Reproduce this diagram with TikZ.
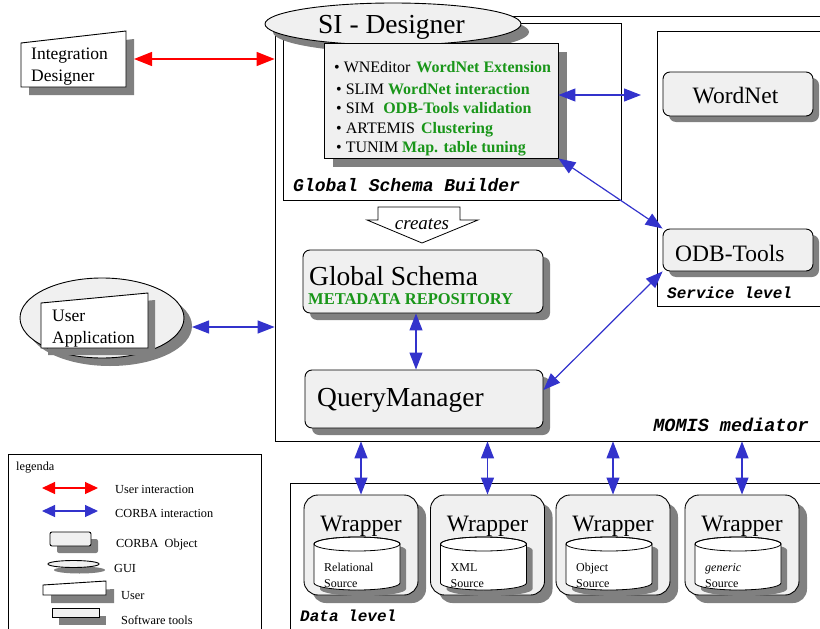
\documentclass[tikz,border=0pt]{standalone}
\usepackage{fontspec}
\setmainfont{Liberation Serif}
\setmonofont{Liberation Mono}
\usetikzlibrary{arrows.meta,shadows,shapes.geometric}

\definecolor{boxgray}{RGB}{240,240,240}
\definecolor{shadowgray}{RGB}{128,128,128}
\definecolor{corbablue}{RGB}{51,51,204}
\definecolor{toolgreen}{RGB}{25,150,25}
\newcommand{\greenbf}[1]{\textcolor{toolgreen}{\textbf{#1}}}

\tikzset{
  grayshadow/.style={drop shadow={shadow xshift=#1, shadow yshift=-#1, fill=shadowgray, opacity=1}},
  grayshadow/.default=7pt,
  frame/.style={draw, line width=0.8pt, inner sep=0pt},
  corbabox/.style={draw, line width=0.9pt, fill=boxgray, rounded corners=7pt, inner sep=0pt, grayshadow=#1},
  corbabox/.default=7pt,
  toolbox/.style={draw, line width=0.9pt, fill=boxgray, inner sep=0pt, grayshadow=#1},
  toolbox/.default=9pt,
  userbox/.style={draw, line width=0.9pt, fill=white, grayshadow=#1},
  userbox/.default=8pt,
  guibox/.style={ellipse, draw, line width=0.9pt, fill=boxgray, inner sep=0pt, grayshadow=#1},
  guibox/.default=8pt,
  bigtxt/.style={anchor=base west, inner sep=0pt, font=\fontsize{27.5}{30}\selectfont},
  midtxt/.style={anchor=base, inner sep=0pt, font=\fontsize{23.5}{26}\selectfont},
  usertxt/.style={anchor=west, align=left, inner sep=0pt, font=\fontsize{17.5}{22}\selectfont},
  itemtxt/.style={anchor=base west, inner sep=0pt, font=\fontsize{16}{18}\selectfont},
  legtxt/.style={anchor=base west, inner sep=0pt, font=\fontsize{12.3}{14}\selectfont},
  srctxt/.style={anchor=base west, inner sep=0pt, font=\fontsize{12}{14}\selectfont},
  leveltxt/.style={anchor=base west, inner sep=0pt, font=\fontsize{#1}{#1}\selectfont\ttfamily\bfseries\itshape},
  leveltxt/.default=16,
  corbaarrow/.style={{Triangle[length=17pt,width=13pt]}-{Triangle[length=17pt,width=13pt]}, color=corbablue, line width=1.2pt},
  userarrow/.style={{Triangle[length=18pt,width=14pt]}-{Triangle[length=18pt,width=14pt]}, color=red, line width=1.4pt},
  legtips/.style={{Triangle[length=13pt,width=12pt]}-{Triangle[length=13pt,width=12pt]}, line width=1.2pt}
}

\begin{document}
\begin{tikzpicture}[x=1pt, y=-1pt]
\useasboundingbox (0,0) rectangle (820,629);

\node[frame, minimum width=555, minimum height=425] (momis) at (552.5,228.5) {};
\node[frame, minimum width=338, minimum height=177] (gsb) at (452,111.5) {};
\node[frame, minimum width=173, minimum height=275] (service) at (743.5,168.5) {};
\node[frame, minimum width=540, minimum height=162] (datalvl) at (560,564) {};
\node[frame, minimum width=253, minimum height=191] (legend) at (134.5,549.5) {};

\node[guibox, minimum width=256, minimum height=42] (si) at (393,24) {};
\node[bigtxt] (sitxt) at (318,34) {SI - Designer};

\node[toolbox, minimum width=234, minimum height=115] (list) at (441,100.5) {};
\node[itemtxt] (wneditor) at (334,72) {\textbullet\ WNEditor\hspace{6pt}\greenbf{WordNet Extension}};
\node[itemtxt] (slim) at (336,94) {\textbullet\ SLIM \greenbf{WordNet interaction}};
\node[itemtxt] (sim) at (336,113) {\textbullet\ SIM\hspace{9pt}\greenbf{ODB-Tools validation}};
\node[itemtxt] (artemis) at (336,133) {\textbullet\ ARTEMIS\hspace{6pt}\greenbf{Clustering}};
\node[itemtxt] (tunim) at (336,152) {\textbullet\ TUNIM \greenbf{Map. table tuning}};
\node[leveltxt=18] (gsbtxt) at (293,191) {Global Schema Builder};

\filldraw[fill=white, line width=0.8pt] (378,207) -- (460,207) -- (460,220) -- (478,220) -- (422,243) -- (367,220) -- (378,220) -- cycle;
\node[anchor=base, inner sep=0pt, font=\fontsize{19}{21}\selectfont\itshape] (creates) at (422,229) {creates};

\node[corbabox, minimum width=240, minimum height=63] (gs) at (423,281.5) {};
\node[bigtxt] (gsname) at (309,285) {Global Schema};
\node[itemtxt, font=\fontsize{16.5}{18}\selectfont] (gsrepo) at (308,304) {\greenbf{METADATA REPOSITORY}};

\node[corbabox, minimum width=238, minimum height=58] (qm) at (424,399) {};
\node[bigtxt] (qmname) at (317,406) {QueryManager};

\node[corbabox=6pt, minimum width=150, minimum height=44] (wordnet) at (738,94) {};
\node[midtxt] (wntxt) at (735.5,103) {WordNet};
\node[corbabox=6pt, minimum width=150, minimum height=42] (odb) at (738,250) {};
\node[midtxt, anchor=base west] (odbtxt) at (675,261) {ODB-Tools};
\node[leveltxt] (servtxt) at (667,298) {Service level};
\node[leveltxt=18.5, anchor=base east] (momistxt) at (809,431) {MOMIS mediator};

\filldraw[userbox] (21,87) -- (21,43) -- (126,31) -- (126,87) -- cycle;
\node[usertxt] (integ) at (31,67) {Integration\\Designer};
\coordinate (integr) at (134,59);
\draw[userarrow] (integr) -- (momis.west |- integr);

\node[guibox, minimum width=164, minimum height=80] (uapp) at (102,318) {};
\filldraw[userbox=7pt] (41,348) -- (41,303) -- (148,293) -- (148,348) -- cycle;
\node[usertxt] (user) at (52,329) {User\\Application};
\coordinate (uappr) at (192,327);
\draw[corbaarrow] (uappr) -- (momis.west |- uappr);

\coordinate (wnend) at (641,95);
\draw[corbaarrow] (list.east |- wnend) -- (wnend);
\draw[corbaarrow] (list.south east) -- (odb.north west);
\draw[corbaarrow] (odb.south west) -- ([yshift=9pt]qm.east);
\draw[corbaarrow] (416,0 |- gs.south) -- (416,0 |- qm.north);

\node[corbabox=8pt, rounded corners=14pt, minimum width=114, minimum height=100] (wrel) at (361,545) {};
\node[midtxt] (wreltxt) at (361,531) {Wrapper};
\filldraw[fill=white, line width=0.8pt, grayshadow=6pt] (314,544) -- (314,583) arc[start angle=180, end angle=0, x radius=43, y radius=7] -- (400,544) arc[start angle=0, end angle=-180, x radius=43, y radius=7] -- cycle;
\draw[line width=0.8pt] (357,544) ellipse[x radius=43, y radius=7];
\node[srctxt] (relname) at (324,571) {Relational};
\node[srctxt] (relsrc) at (324,587) {Source};

\node[corbabox=8pt, rounded corners=14pt, minimum width=114, minimum height=100] (wxml) at (487.5,545) {};
\node[midtxt] (wxmltxt) at (487.5,531) {Wrapper};
\filldraw[fill=white, line width=0.8pt, grayshadow=6pt] (440.5,544) -- (440.5,583) arc[start angle=180, end angle=0, x radius=43, y radius=7] -- (526.5,544) arc[start angle=0, end angle=-180, x radius=43, y radius=7] -- cycle;
\draw[line width=0.8pt] (483.5,544) ellipse[x radius=43, y radius=7];
\node[srctxt] (xmlname) at (450.5,571) {XML};
\node[srctxt] (xmlsrc) at (450.5,587) {Source};

\node[corbabox=8pt, rounded corners=14pt, minimum width=114, minimum height=100] (wobj) at (613,545) {};
\node[midtxt] (wobjtxt) at (613,531) {Wrapper};
\filldraw[fill=white, line width=0.8pt, grayshadow=6pt] (566,544) -- (566,583) arc[start angle=180, end angle=0, x radius=43, y radius=7] -- (652,544) arc[start angle=0, end angle=-180, x radius=43, y radius=7] -- cycle;
\draw[line width=0.8pt] (609,544) ellipse[x radius=43, y radius=7];
\node[srctxt] (objname) at (576,571) {Object};
\node[srctxt] (objsrc) at (576,587) {Source};

\node[corbabox=8pt, rounded corners=14pt, minimum width=114, minimum height=100] (wgen) at (742,545) {};
\node[midtxt] (wgentxt) at (742,531) {Wrapper};
\filldraw[fill=white, line width=0.8pt, grayshadow=6pt] (695,544) -- (695,583) arc[start angle=180, end angle=0, x radius=43, y radius=7] -- (781,544) arc[start angle=0, end angle=-180, x radius=43, y radius=7] -- cycle;
\draw[line width=0.8pt] (738,544) ellipse[x radius=43, y radius=7];
\node[srctxt] (genname) at (705,571) {\textit{generic}};
\node[srctxt] (gensrc) at (705,587) {Source};

\node[leveltxt] (datatxt) at (300,621) {Data level};

\draw[corbaarrow] (wrel.north |- momis.south) -- (wrel.north);
\draw[corbaarrow] (wxml.north |- momis.south) -- (wxml.north);
\draw[corbaarrow] (wobj.north |- momis.south) -- (wobj.north);
\draw[corbaarrow] (wgen.north |- momis.south) -- (wgen.north);

\node[legtxt] (legtitle) at (16,470) {legenda};
\coordinate (legr1) at (42,488);
\coordinate (legr2) at (98,488);
\draw[userarrow, legtips] (legr1) -- (legr2);
\node[legtxt] (leguser) at (115,493) {User interaction};
\coordinate (legb1) at (42,511);
\coordinate (legb2) at (98,511);
\draw[corbaarrow, legtips] (legb1) -- (legb2);
\node[legtxt] (legcorba) at (115,517) {CORBA interaction};
\node[corbabox=7pt, rounded corners=2pt, minimum width=41, minimum height=14] (legobj) at (70.5,539) {};
\node[legtxt] (legobjtxt) at (116,547) {CORBA\ \ Object};
\node[guibox=6pt, minimum width=51, minimum height=7] (leggui) at (73.5,564) {};
\node[legtxt] (legguitxt) at (114,572) {GUI};
\filldraw[userbox=8pt] (43,595) -- (43,585) -- (106,581) -- (106,595) -- cycle;
\node[legtxt] (legusertxt) at (121,599) {User};
\node[toolbox=7pt, minimum width=47, minimum height=9] (legtool) at (75.5,613) {};
\node[legtxt] (legtooltxt) at (121,624) {Software tools};
\end{tikzpicture}
\end{document}
